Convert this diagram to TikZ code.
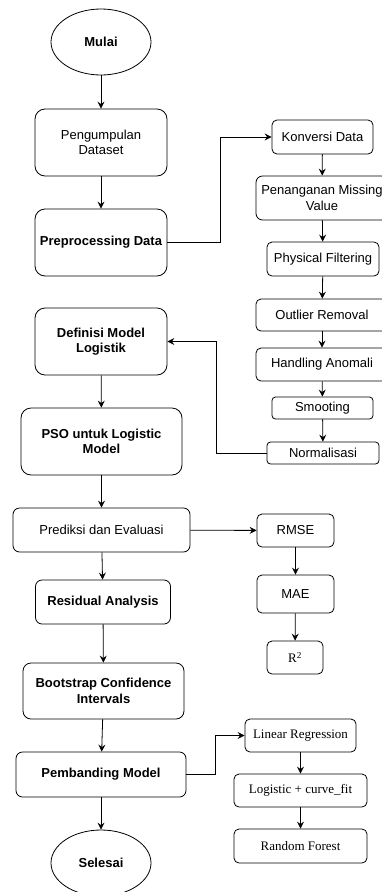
\documentclass[tikz,border=0pt]{standalone}
\usepackage{fontspec}
\setmainfont{Liberation Sans}
\newfontfamily\timesfont{Liberation Serif}
\newcommand\boxfont{\fontsize{13}{15.6}\selectfont}
\usetikzlibrary{arrows.meta,shapes.geometric}

\begin{document}
\begin{tikzpicture}[x=1pt, y=-1pt, line width=0.8pt,
    >={Stealth[length=7pt,width=7pt,inset=2.5pt]},
    every node/.style={font=\boxfont, align=center, inner sep=0pt},
    terminal/.style={draw, ellipse, minimum width=100pt, minimum height=66pt, font=\boxfont\bfseries},
    stepbox/.style={draw, rounded corners=10pt, minimum height=67pt},
    flatbox/.style={draw, rounded corners=6.5pt, minimum height=44pt},
    subbox/.style={draw, rounded corners=5pt, minimum height=33pt},
    thinbox/.style={draw, rounded corners=3.5pt, minimum height=22pt},
    strong/.style={font=\boxfont\bfseries},
    serif/.style={font=\boxfont\timesfont}]
  \useasboundingbox (0,0) rectangle (382,892);

  % Main flow
  \node[terminal] (mulai) at (101,42) {Mulai};
  \node[stepbox, minimum width=132pt] (kumpul) at (101,142.5) {Pengumpulan\\Dataset};
  \node[stepbox, strong, minimum width=132pt] (prep) at (101,242.5) {Preprocessing Data};
  \node[stepbox, strong, minimum width=132pt] (defn) at (101,341.5) {Definisi Model\\Logistik};
  \node[stepbox, strong, minimum width=161pt] (pso) at (101.5,441.5) {PSO untuk Logistic\\Model};
  \node[flatbox, minimum width=177pt] (pred) at (101.5,530) {Prediksi dan Evaluasi};
  \node[flatbox, strong, minimum width=135pt] (resid) at (103,602) {Residual Analysis};
  \node[stepbox, strong, minimum width=161pt, minimum height=56pt, rounded corners=8pt] (boot) at (103.5,691) {Bootstrap Confidence\\Intervals};
  \node[flatbox, strong, minimum width=170pt, minimum height=45pt] (banding) at (101,774.5) {Pembanding Model};
  \node[terminal] (selesai) at (101,863) {Selesai};

  \draw[->] (mulai) -- (kumpul);
  \draw[->] (kumpul) -- (prep);
  \draw[->] (defn) -- (pso);
  \draw[->] (pso) -- (pred);
  \draw[->] (pred) -- (resid);
  \draw[->] (resid) -- (boot);
  \draw[->] (boot) -- (banding);
  \draw[->] (banding) -- (selesai);

  % Preprocessing steps
  \node[subbox, minimum width=101pt, minimum height=34pt] (konversi) at (322.5,137) {Konversi Data};
  \node[flatbox, minimum width=132pt] (missing) at (322,198) {Penanganan Missing\\Value};
  \node[subbox, minimum width=112pt, minimum height=34pt] (fisik) at (323,259) {Physical Filtering};
  \node[subbox, minimum width=132pt, minimum height=32pt] (outlier) at (322,315) {Outlier Removal};
  \node[subbox, minimum width=132pt] (anomali) at (322,364.5) {Handling Anomali};
  \node[thinbox, minimum width=101pt] (smooth) at (322.5,408) {Smooting};
  \node[thinbox, minimum width=112pt] (norm) at (323,453) {Normalisasi};

  \draw[->] (prep.east) -- ++(53,0) |- (konversi.west);
  \draw[->] (konversi) -- (missing);
  \draw[->] (missing) -- (fisik);
  \draw[->] (fisik) -- (outlier);
  \draw[->] (outlier) -- (anomali);
  \draw[->] (anomali) -- (smooth);
  \draw[->] (smooth) -- (norm);
  \draw[->] (norm.west) -- ++(-50,0) |- (defn.east);

  % Evaluation metrics
  \node[subbox, minimum width=77pt] (rmse) at (295.5,530.5) {RMSE};
  \node[subbox, minimum width=77pt, minimum height=38pt] (mae) at (295.5,594) {MAE};
  \node[subbox, serif, minimum width=56pt] (rsq) at (295,657.5) {R\textsuperscript{2}};

  \draw[->] (pred) -- (rmse);
  \draw[->] (rmse) -- (mae);
  \draw[->] (mae) -- (rsq);

  % Comparison models
  \node[subbox, serif, minimum width=111pt] (linreg) at (300.5,735.5) {Linear Regression};
  \node[subbox, serif, minimum width=133pt] (logfit) at (300.5,790.5) {Logistic + curve\_fit};
  \node[subbox, serif, minimum width=133pt, minimum height=34pt] (forest) at (300.5,846) {Random Forest};

  \draw[->] (banding.east) -- ++(29,0) |- (linreg.west);
  \draw[->] (linreg) -- (logfit);
  \draw[->] (logfit) -- (forest);
\end{tikzpicture}
\end{document}
